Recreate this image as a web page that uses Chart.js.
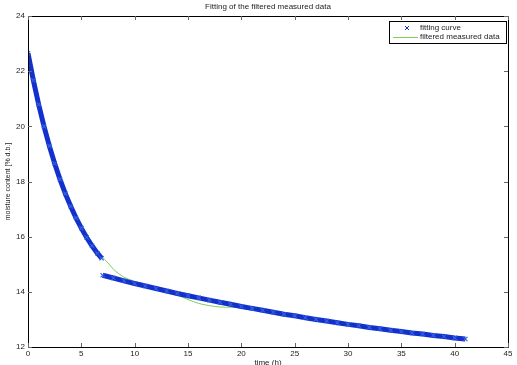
<!DOCTYPE html>
<html lang="en">
<head>
    <meta charset="UTF-8">
    <title>Fitting of the filtered measured data</title>
    <style>
        html, body { margin: 0; padding: 0; background: #fff; }
        canvas { display: block; }
    </style>
</head>
<body>
    <canvas id="chartJSContainer" width="517" height="365"></canvas>
    <script src="https://cdnjs.cloudflare.com/ajax/libs/Chart.js/4.4.0/chart.umd.js"></script>
<script>
// fitting curve, first part (time in h, moisture in % d.b.)
var fitTime1 = [0, 0.5, 1, 1.5, 2, 2.5, 3, 3.5, 4, 4.5, 5, 5.5, 6, 6.5, 6.9];
var fitMoist1 = [22.65, 21.67, 20.79, 20.00, 19.29, 18.65, 18.08, 17.56, 17.10, 16.68, 16.31, 15.97, 15.67, 15.40, 15.22];

// fitting curve, second part
var fitTime2 = [7, 8, 9, 10, 11, 12, 13, 14, 15, 16, 17, 18, 19, 20, 21, 22, 23, 24,
    25, 26, 27, 28, 29, 30, 31, 32, 33, 34, 35, 36, 37, 38, 39, 40, 41];
var fitMoist2 = [14.60, 14.50, 14.40, 14.30, 14.21, 14.12, 14.03, 13.94, 13.86, 13.78, 13.70, 13.62, 13.55, 13.47,
    13.40, 13.33, 13.26, 13.19, 13.13, 13.06, 13.00, 12.94, 12.88, 12.82, 12.77, 12.71, 12.66, 12.61, 12.56,
    12.51, 12.47, 12.42, 12.38, 12.33, 12.29];

// filtered measured data
var dataTime = [0, 1, 2, 3, 4, 5, 6, 6.9, 7.5, 8, 8.5, 9, 9.5, 10, 11, 12, 13, 14, 15, 16, 17, 18, 19, 20,
    21, 22, 23, 24, 25, 26, 27, 28, 29, 30, 31, 32, 33, 34, 35, 36, 37, 38, 39, 40, 41];
var dataMoist = [22.65, 20.79, 19.29, 18.08, 17.10, 16.31, 15.67, 15.28, 15.05, 14.82, 14.66, 14.53, 14.45, 14.38,
    14.22, 14.10, 14.00, 13.88, 13.72, 13.58, 13.50, 13.45, 13.44, 13.42, 13.38, 13.32, 13.26, 13.18, 13.12,
    13.07, 13.00, 12.92, 12.87, 12.84, 12.78, 12.72, 12.65, 12.59, 12.55, 12.50, 12.46, 12.40, 12.37, 12.33, 12.31];

var xTicks = [0, 5, 10, 15, 20, 25, 30, 35, 40, 45];
var yTicks = [12, 14, 16, 18, 20, 22, 24];

var titleText = 'Fitting of the filtered measured data';
var xTitle = 'time (h)';
var yTitle = 'moisture content [% d.b.]';

var FONT = '"Liberation Sans", Arial, sans-serif';
var BLUE = '#1430cc';
var GREEN = '#7ccf5a';

function pairs(xs, ys) {
    return xs.map(function (x, i) { return { x: x, y: ys[i] }; });
}

// box, inward ticks, title and legend like the matlab figure
var matlabFrame = {
    id: 'matlabFrame',
    afterDraw: function (chart) {
        var ctx = chart.ctx;
        var a = chart.chartArea;
        var xs = chart.scales.x, ys = chart.scales.y;
        ctx.save();
        ctx.strokeStyle = '#000';
        ctx.lineWidth = 1;
        ctx.beginPath();
        ctx.rect(Math.round(a.left) + 0.5, Math.round(a.top) + 0.5,
            Math.round(a.right - a.left), Math.round(a.bottom - a.top));
        ctx.stroke();
        ctx.strokeStyle = '#666';
        ctx.beginPath();
        xTicks.forEach(function (t) {
            var px = Math.round(xs.getPixelForValue(t)) + 0.5;
            ctx.moveTo(px, a.bottom); ctx.lineTo(px, a.bottom - 4);
            ctx.moveTo(px, a.top); ctx.lineTo(px, a.top + 4);
        });
        yTicks.forEach(function (t) {
            var py = Math.round(ys.getPixelForValue(t)) + 0.5;
            ctx.moveTo(a.left, py); ctx.lineTo(a.left + 4, py);
            ctx.moveTo(a.right, py); ctx.lineTo(a.right - 4, py);
        });
        ctx.stroke();

        // title
        ctx.fillStyle = '#222';
        ctx.font = '8px ' + FONT;
        ctx.textAlign = 'center';
        ctx.textBaseline = 'middle';
        ctx.fillText(titleText, (a.left + a.right) / 2, 7);

        // legend
        var lx = 389, ly = 21, lw = 117, lh = 22;
        ctx.fillStyle = '#fff';
        ctx.fillRect(lx, ly, lw, lh);
        ctx.strokeStyle = '#000';
        ctx.strokeRect(lx + 0.5, ly + 0.5, lw, lh);
        var rows = chart.data.datasets.filter(function (d) { return d.inLegend; });
        ctx.textAlign = 'left';
        rows.forEach(function (d, i) {
            var cy = ly + 7 + i * 9;
            if (d.pointStyle === 'crossRot') {
                ctx.strokeStyle = BLUE;
                ctx.beginPath();
                ctx.moveTo(405, cy - 2); ctx.lineTo(409, cy + 2);
                ctx.moveTo(409, cy - 2); ctx.lineTo(405, cy + 2);
                ctx.stroke();
            } else {
                ctx.strokeStyle = d.borderColor;
                ctx.beginPath();
                ctx.moveTo(393, cy + 0.5); ctx.lineTo(418, cy + 0.5);
                ctx.stroke();
            }
            ctx.fillStyle = '#222';
            ctx.fillText(d.label, 420, cy);
        });
        ctx.restore();
    }
};

var fitStyle = {
    showLine: true,
    borderColor: BLUE,
    borderWidth: 5,
    pointStyle: 'crossRot',
    pointRadius: 3,
    pointBorderWidth: 1.2,
    pointBorderColor: '#2f62dc',
    order: 1
};

var options = {
    type: 'scatter',
    data: {
        datasets: [
            Object.assign({ label: 'fitting curve', inLegend: true, data: pairs(fitTime1, fitMoist1) }, fitStyle),
            Object.assign({ label: 'fitting curve', data: pairs(fitTime2, fitMoist2) }, fitStyle),
            {
                label: 'filtered measured data',
                inLegend: true,
                data: pairs(dataTime, dataMoist),
                showLine: true,
                borderColor: GREEN,
                borderWidth: 1,
                pointRadius: 0,
                tension: 0.3,
                order: 2
            }
        ]
    },
    options: {
        responsive: false,
        animation: false,
        layout: { padding: { top: 16, right: 9, left: 0, bottom: 0 } },
        plugins: {
            legend: { display: false },
            tooltip: { enabled: false }
        },
        scales: {
            x: {
                type: 'linear',
                min: 0, max: 45,
                afterBuildTicks: function (s) { s.ticks = xTicks.map(function (v) { return { value: v }; }); },
                afterFit: function (s) { s.height = 18; },
                grid: { display: false, drawTicks: false, tickLength: 0 },
                border: { display: false },
                ticks: { padding: 2, color: '#222', font: { family: FONT, size: 8 }, maxRotation: 0 },
                title: { display: true, text: xTitle, color: '#222', font: { family: FONT, size: 8 }, padding: { top: 0, bottom: -3 } }
            },
            y: {
                type: 'linear',
                min: 12, max: 24,
                afterBuildTicks: function (s) { s.ticks = yTicks.map(function (v) { return { value: v }; }); },
                afterFit: function (s) { s.width = 28; },
                grid: { display: false, drawTicks: false, tickLength: 0 },
                border: { display: false },
                ticks: { padding: 3, color: '#222', font: { family: FONT, size: 8 } },
                title: { display: true, text: yTitle, color: '#222', font: { family: FONT, size: 7 }, padding: { top: 4, bottom: 0 } }
            }
        }
    },
    plugins: [matlabFrame]
};

var ctx = document.getElementById('chartJSContainer').getContext('2d');
new Chart(ctx, options);
</script>
</body>
</html>
